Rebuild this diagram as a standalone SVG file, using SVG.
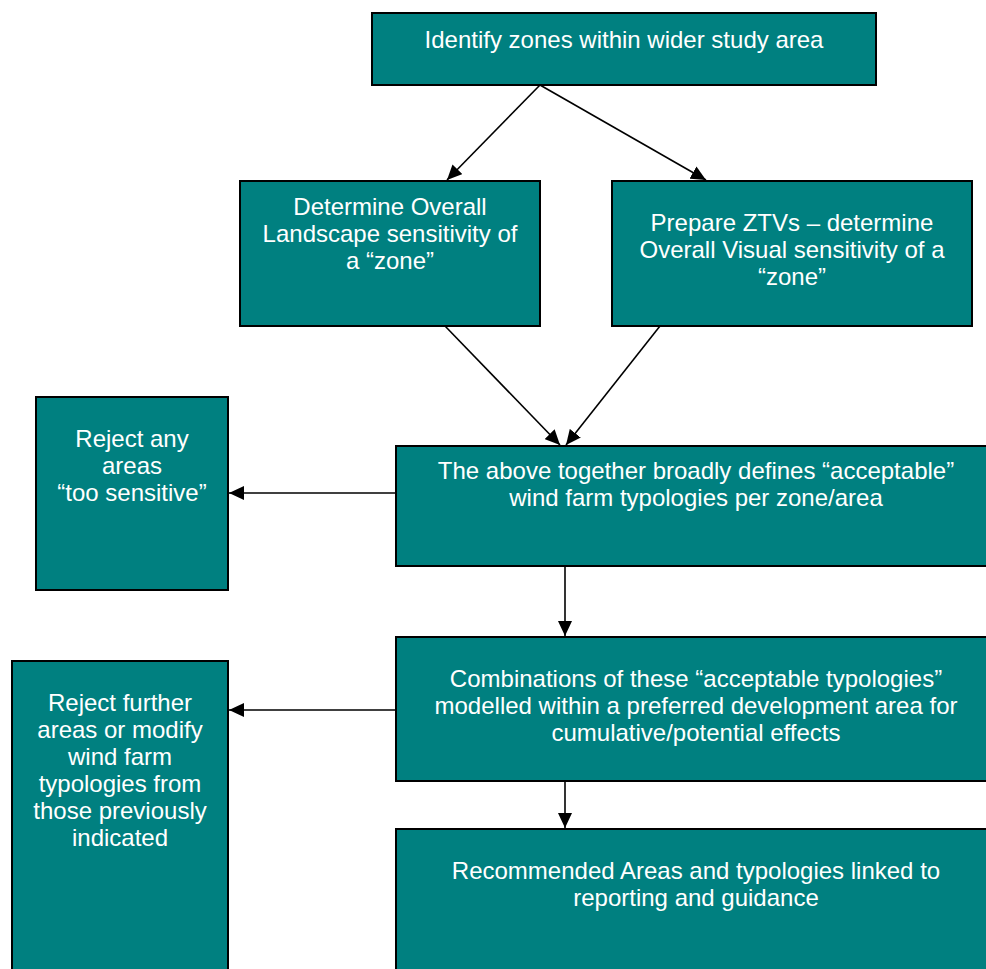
<svg xmlns="http://www.w3.org/2000/svg" width="986" height="969" viewBox="0 0 986 969">
<style>
.box{fill:#008080;stroke:#000;stroke-width:2}
.t{font-family:"Liberation Sans",Arial,sans-serif;font-size:24px;fill:#fff;text-anchor:middle}
.c{stroke:#000;stroke-width:1.6;fill:none;marker-end:url(#ah)}
</style>
<defs>
<marker id="ah" markerUnits="userSpaceOnUse" markerWidth="16" markerHeight="14" refX="15" refY="7" orient="auto">
<path d="M0,0 L15,7 L0,14 Z" fill="#000"/>
</marker>
</defs>
<rect width="986" height="969" fill="#fff"/>
<g id="connectors">
<line class="c" x1="540" y1="85" x2="447" y2="180"/>
<line class="c" x1="540" y1="85" x2="706" y2="180"/>
<line class="c" x1="445" y1="326" x2="560" y2="445"/>
<line class="c" x1="660" y1="326" x2="566" y2="445"/>
<line class="c" x1="396" y1="493" x2="229" y2="493"/>
<line class="c" x1="565" y1="566" x2="565" y2="636"/>
<line class="c" x1="396" y1="710" x2="229" y2="710"/>
<line class="c" x1="565" y1="781" x2="565" y2="828"/>
</g>
<g id="n1">
<rect class="box" x="372" y="13" width="504" height="72"/>
<text class="t" x="624" y="48">Identify zones within wider study area</text>
</g>
<g id="n2">
<rect class="box" x="240" y="181" width="300" height="145"/>
<text class="t" x="390" y="215">Determine Overall</text>
<text class="t" x="390" y="242">Landscape sensitivity of</text>
<text class="t" x="390" y="269">a “zone”</text>
</g>
<g id="n3">
<rect class="box" x="612" y="181" width="360" height="145"/>
<text class="t" x="792" y="231">Prepare ZTVs – determine</text>
<text class="t" x="792" y="258">Overall Visual sensitivity of a</text>
<text class="t" x="792" y="285">“zone”</text>
</g>
<g id="n4">
<rect class="box" x="36" y="397" width="192" height="193"/>
<text class="t" x="132" y="447">Reject any</text>
<text class="t" x="132" y="474">areas</text>
<text class="t" x="132" y="501">“too sensitive”</text>
</g>
<g id="n5">
<rect class="box" x="396" y="446" width="610" height="120"/>
<text class="t" x="696" y="479">The above together broadly defines “acceptable”</text>
<text class="t" x="696" y="506">wind farm typologies per zone/area</text>
</g>
<g id="n6">
<rect class="box" x="396" y="637" width="610" height="144"/>
<text class="t" x="696" y="687">Combinations of these “acceptable typologies”</text>
<text class="t" x="696" y="714">modelled within a preferred development area for</text>
<text class="t" x="696" y="741">cumulative/potential effects</text>
</g>
<g id="n7">
<rect class="box" x="396" y="829" width="610" height="160"/>
<text class="t" x="696" y="879">Recommended Areas and typologies linked to</text>
<text class="t" x="696" y="906">reporting and guidance</text>
</g>
<g id="n8">
<rect class="box" x="12" y="661" width="216" height="328"/>
<text class="t" x="120" y="711">Reject further</text>
<text class="t" x="120" y="738">areas or modify</text>
<text class="t" x="120" y="765">wind farm</text>
<text class="t" x="120" y="792">typologies from</text>
<text class="t" x="120" y="819">those previously</text>
<text class="t" x="120" y="846">indicated</text>
</g>
</svg>
